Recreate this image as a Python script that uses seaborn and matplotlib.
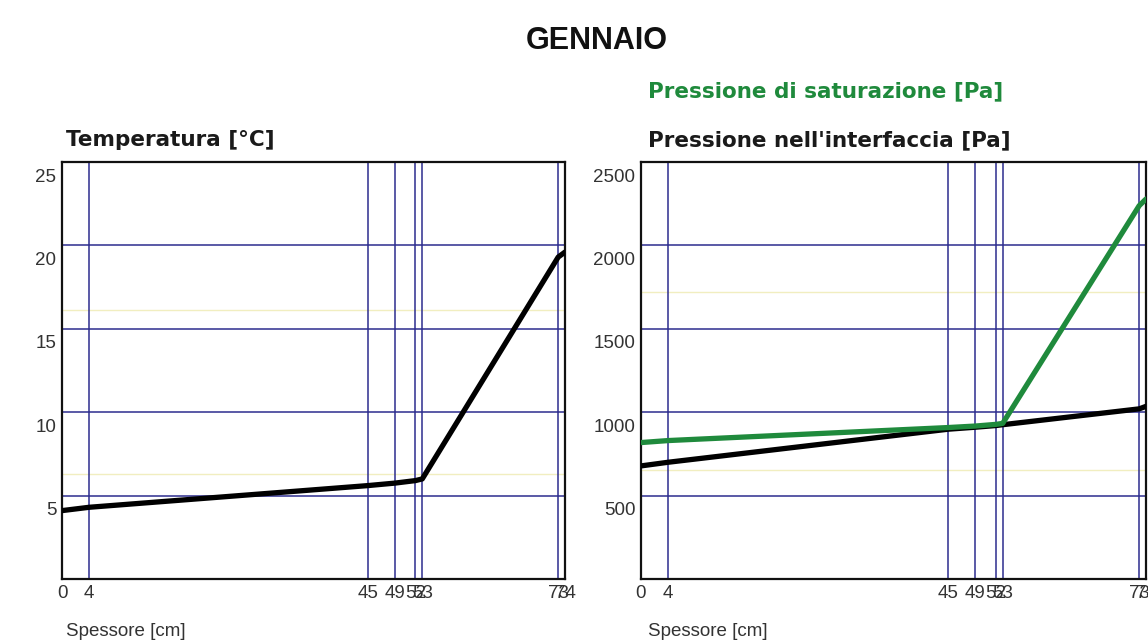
import matplotlib
matplotlib.use("Agg")
import matplotlib.pyplot as plt
import matplotlib.transforms as mtransforms
import seaborn as sns
import pandas as pd

# Wall layer interfaces (thickness from the outside, cm)
spessore = [0, 4, 45, 49, 52, 53, 73, 74]
# Interface temperature [°C]
temperatura = [4.1, 4.3, 5.6, 5.75, 5.9, 6.0, 19.3, 19.6]
# Saturation vapour pressure and vapour pressure at interfaces [Pa]
pressione_saturazione = [818, 830, 908, 917, 927, 933, 2238, 2278]
pressione_interfaccia = [678, 700, 898, 910, 920, 925, 1020, 1035]

temp_ticks = [5, 10, 15, 20, 25]
press_ticks = [500, 1000, 1500, 2000, 2500]
temp_faint = [6.3, 16.1]
press_faint = [655, 1720]

sns.set_style("white")
plt.rcParams["font.family"] = ["Liberation Sans", "DejaVu Sans"]

df = pd.DataFrame({
    "spessore": spessore,
    "temperatura": temperatura,
    "psat": pressione_saturazione,
    "pint": pressione_interfaccia,
})

W, H = 1148, 642
fig = plt.figure(figsize=(W / 100, H / 100), dpi=100)
fig.patch.set_facecolor("white")

ax1 = fig.add_axes([62 / W, 1 - 579 / H, 503 / W, 417 / H])
ax2 = fig.add_axes([641 / W, 1 - 579 / H, 505 / W, 417 / H])

GRID = "#2c2c8e"
GREEN = "#1f8a3c"
TICK_COLOR = "#333333"


def style_axis(ax, yticks, ymax):
    ax.set_xlim(0, 74)
    ax.set_ylim(0, ymax)
    ax.set_xticks(spessore)
    ax.set_xticklabels([str(v) for v in spessore])
    ax.set_yticks(yticks)
    ax.set_yticklabels([str(v) for v in yticks])
    ax.set_axisbelow(True)
    ax.grid(True, color=GRID, linewidth=1.1)
    ax.tick_params(length=0, labelsize=13.5, labelcolor=TICK_COLOR, pad=4)
    for sp in ax.spines.values():
        sp.set_visible(True)
        sp.set_color("#111111")
        sp.set_linewidth(1.6)
    ax.set_xlabel("")
    ax.set_ylabel("")
    if ax.get_legend() is not None:
        ax.get_legend().remove()
    # y labels sit a little below their grid lines
    off = mtransforms.ScaledTranslation(0, -13 / 100, fig.dpi_scale_trans)
    for t in ax.yaxis.get_major_ticks():
        t.label1.set_transform(t.label1.get_transform() + off)


for v in temp_faint:
    ax1.axhline(v, color="#f1eec0", linewidth=1.0, zorder=0.5)
for v in press_faint:
    ax2.axhline(v, color="#f1eec0", linewidth=1.0, zorder=0.5)

sns.lineplot(data=df, x="spessore", y="temperatura", ax=ax1,
             color="black", linewidth=3.8, zorder=3)
style_axis(ax1, temp_ticks, 25)

sns.lineplot(data=df, x="spessore", y="pint", ax=ax2,
             color="black", linewidth=3.8, zorder=3)
sns.lineplot(data=df, x="spessore", y="psat", ax=ax2,
             color=GREEN, linewidth=3.8, zorder=4)
style_axis(ax2, press_ticks, 2500)

# Titles
fig.text(597 / W, 1 - 41 / H, "GENNAIO", ha="center", va="center",
         fontsize=22, fontweight="bold", color="#111111")
fig.text(66 / W, 1 - 140 / H, "Temperatura [°C]", ha="left", va="center",
         fontsize=15.5, fontweight="bold", color="#1a1a1a", family="DejaVu Sans")
fig.text(648 / W, 1 - 91 / H, "Pressione di saturazione [Pa]", ha="left", va="center",
         fontsize=15.5, fontweight="bold", color=GREEN, family="DejaVu Sans")
fig.text(648 / W, 1 - 140 / H, "Pressione nell'interfaccia [Pa]", ha="left", va="center",
         fontsize=15.5, fontweight="bold", color="#1a1a1a", family="DejaVu Sans")

# Axis captions
fig.text(66 / W, 1 - 631 / H, "Spessore [cm]", ha="left", va="center",
         fontsize=13.5, color=TICK_COLOR)
fig.text(648 / W, 1 - 631 / H, "Spessore [cm]", ha="left", va="center",
         fontsize=13.5, color=TICK_COLOR)

fig.savefig("out.png", dpi=100)
